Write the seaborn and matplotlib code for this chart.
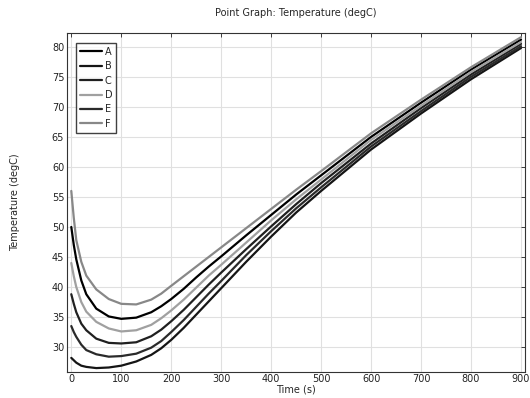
import numpy as np
import pandas as pd
import matplotlib
matplotlib.use("Agg")
import matplotlib.pyplot as plt
import seaborn as sns

# Time samples (s)
time = [0, 5, 10, 20, 30, 50, 75, 100, 130, 160, 180, 200, 225, 250, 275, 300,
        350, 400, 450, 500, 600, 700, 800, 900]

# Temperature (degC) for each point
temp_a = [50.0, 47.0, 44.6, 41.1, 38.8, 36.4, 35.1, 34.7, 34.9, 35.8, 36.8, 38.0, 39.7, 41.6, 43.4, 45.1,
          48.6, 52.0, 55.4, 58.6, 65.0, 70.7, 76.2, 81.2]
temp_b = [28.2, 27.8, 27.4, 26.9, 26.7, 26.5, 26.6, 26.9, 27.6, 28.7, 29.8, 31.2, 33.2, 35.4, 37.6, 39.8,
          44.2, 48.4, 52.4, 56.0, 62.9, 68.9, 74.6, 79.8]
temp_c = [38.8, 37.2, 35.8, 33.9, 32.8, 31.4, 30.7, 30.6, 30.8, 31.8, 32.9, 34.3, 36.2, 38.3, 40.4, 42.4,
          46.3, 50.1, 53.8, 57.3, 63.9, 69.8, 75.4, 80.5]
temp_d = [44.0, 41.8, 40.0, 37.5, 35.9, 34.2, 33.1, 32.6, 32.8, 33.7, 34.8, 36.1, 37.9, 39.9, 41.9, 43.7,
          47.4, 51.1, 54.6, 57.9, 64.5, 70.2, 75.8, 80.8]
temp_e = [33.5, 32.5, 31.7, 30.4, 29.5, 28.8, 28.4, 28.5, 28.9, 29.9, 31.0, 32.5, 34.5, 36.7, 38.9, 41.0,
          45.3, 49.3, 53.1, 56.6, 63.4, 69.3, 75.0, 80.1]
temp_f = [56.0, 51.5, 47.8, 44.2, 41.9, 39.6, 38.0, 37.2, 37.1, 37.9, 38.9, 40.2, 41.8, 43.4, 45.0, 46.6,
          49.8, 53.0, 56.2, 59.3, 65.6, 71.2, 76.6, 81.6]

names = ["A", "B", "C", "D", "E", "F"]
series = [temp_a, temp_b, temp_c, temp_d, temp_e, temp_f]
colors = ["#000000", "#151515", "#202020", "#a0a0a0", "#2a2a2a", "#888888"]

df = pd.concat(
    [pd.DataFrame({"Time": time, "Temp": vals, "Point": n}) for n, vals in zip(names, series)],
    ignore_index=True,
)

sns.set_style("whitegrid", {"grid.color": "#dddddd", "axes.edgecolor": "#333333"})
plt.rcParams["font.family"] = ["DejaVu Sans"]
plt.rcParams["font.size"] = 7

fig = plt.figure(figsize=(5.30, 3.98), dpi=100)
ax = fig.add_axes([0.1264, 0.0661, 0.8642, 0.851])

sns.lineplot(data=df, x="Time", y="Temp", hue="Point", palette=colors,
             linewidth=1.6, sort=False, ax=ax)

ax.set_xlim(-8.6, 908)
ax.set_ylim(25.9, 82.3)
ax.set_xticks(range(0, 901, 100))
ax.set_yticks(range(30, 81, 5))
ax.tick_params(direction="in", length=3, width=0.6, labelsize=7, colors="#222222",
               top=True, right=True, pad=2)
ax.grid(True, color="#e0e0e0", linewidth=0.8)
for s in ax.spines.values():
    s.set_linewidth(0.8)
    s.set_color("#333333")

ax.set_title("Point Graph: Temperature (degC)", fontsize=7, pad=12)
ax.set_xlabel("Time (s)", fontsize=7, labelpad=0)
ax.set_ylabel("Temperature (degC)", fontsize=7, labelpad=23)

leg = ax.legend(loc="upper left", bbox_to_anchor=(0.01, 0.985), fontsize=7,
                handlelength=2.2, handletextpad=0.3, labelspacing=0.45,
                borderpad=0.4, fancybox=False, frameon=True, title=None)
leg.get_frame().set_edgecolor("#111111")
leg.get_frame().set_linewidth(1.0)

fig.savefig("out.png", dpi=100)
